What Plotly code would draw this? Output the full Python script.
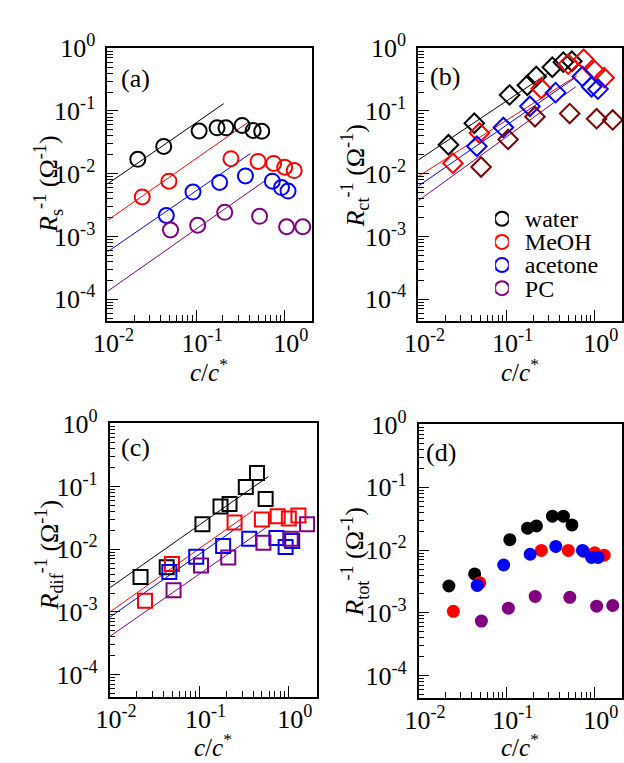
import plotly.graph_objects as go

W, H = 624, 763
FONT = "Liberation Serif"

# ---------------- data ----------------
solvents = ["water", "MeOH", "acetone", "PC"]
colors = ["#000000", "#ff0000", "#0000ff", "#800080"]
pc_ct_color = "#800000"

# c/c* of each sample series
x_water = [0.0219, 0.043, 0.108, 0.172, 0.217, 0.33, 0.44, 0.55]
x_meoh = [0.0246, 0.0492, 0.247, 0.50, 0.75, 1.0, 1.28]
x_acetone = [0.046, 0.092, 0.184, 0.36, 0.725, 0.92, 1.09]
x_pc = [0.0513, 0.104, 0.21, 0.52, 1.05, 1.6]

# (a) Rs^-1
rs_water = [0.017, 0.0272, 0.048, 0.054, 0.054, 0.0588, 0.049, 0.0475]
rs_meoh = [0.00427, 0.00762, 0.0174, 0.0157, 0.0146, 0.0127, 0.01125]
rs_acetone = [0.00216, 0.0051, 0.00727, 0.00922, 0.00762, 0.00603, 0.0053]
rs_pc = [0.00127, 0.00151, 0.00243, 0.0021, 0.00143, 0.00143]

# (b) Rct^-1
rct_water = [0.029, 0.0637, 0.18, 0.257, 0.355, 0.497, 0.60, 0.62]
rct_meoh = [0.0147, 0.0446, 0.228, 0.558, 0.668, 0.44, 0.339]
rct_acetone = [0.0274, 0.0547, 0.119, 0.196, 0.355, 0.243, 0.223]
rct_pc = [0.0128, 0.0352, 0.081, 0.091, 0.0754, 0.072]

# (c) Rdif^-1
rdif_water = [0.0036, 0.00516, 0.0249, 0.0479, 0.0522, 0.098, 0.164, 0.063]
rdif_meoh = [0.00151, 0.00581, 0.0265, 0.0298, 0.0335, 0.0308, 0.0343]
rdif_acetone = [0.00432, 0.00757, 0.0112, 0.0146, 0.0151, 0.0108, 0.0135]
rdif_pc = [0.00221, 0.00548, 0.00738, 0.0126, 0.0146, 0.0249]

# (d) Rtot^-1
rtot_water = [0.00268, 0.00417, 0.0147, 0.0224, 0.0243, 0.0347, 0.0347, 0.0252]
rtot_meoh = [0.00106, 0.00302, 0.0099, 0.0099, 0.0095, 0.00905, 0.0083]
rtot_acetone = [0.00274, 0.0058, 0.0086, 0.01146, 0.0099, 0.00765, 0.00765]
rtot_pc = [0.00074, 0.00119, 0.00183, 0.00177, 0.00128, 0.00131]

# power-law guide lines (start / end points)
fit_a_x = [[0.01, 0.205], [0.01, 0.40], [0.01, 0.41], [0.01, 0.625]]
fit_a_y = [[0.0069, 0.131], [0.00181, 0.0685], [0.000573, 0.021], [0.000134, 0.00809]]
fit_b_x = [[0.01, 0.30], [0.01, 0.63], [0.01, 0.60], [0.01, 0.61]]
fit_b_y = [[0.0166, 0.405], [0.00914, 0.367], [0.0064, 0.339], [0.00374, 0.243]]
fit_c_x = [[0.01, 0.59], [0.01, 0.399], [0.01, 0.298], [0.01, 0.59]]
fit_c_y = [[0.00244, 0.1435], [0.001, 0.0415], [0.00083, 0.0249], [0.00041, 0.0234]]

x_tickvals = [0.01, 0.1, 1]
x_ticktext = ["10<sup>-2</sup>", "10<sup>-1</sup>", "10<sup>0</sup>"]
y_tickvals = [1e-4, 1e-3, 1e-2, 1e-1, 1]
y_ticktext = ["10<sup>-4</sup>", "10<sup>-3</sup>", "10<sup>-2</sup>", "10<sup>-1</sup>", "10<sup>0</sup>"]

xs = [x_water, x_meoh, x_acetone, x_pc]

# ---------------- figure ----------------
fig = go.Figure()

# panel frames in pixels: (left, right, top, bottom)
panels = {
    1: (95.5, 305.5, 31.7, 312.0),
    2: (414.0, 623.0, 31.7, 312.0),
    3: (98.0, 310.0, 416.7, 697.0),
    4: (414.5, 623.0, 417.7, 698.0),
}

x_minor = [k * 10.0 ** e for e in (-2, -1, 0) for k in range(2, 10)]
y_minor = [k * 10.0 ** e for e in (-5, -4, -3, -2, -1) for k in range(2, 10)]

def axis_common(minor_vals):
    return dict(
        type="log",
        showline=True, linecolor="black", linewidth=1.5, mirror=True,
        ticks="inside", ticklen=11, tickwidth=1, tickcolor="black",
        showgrid=False, zeroline=False,
        tickfont=dict(family=FONT, size=26, color="black"),
        minor=dict(tickmode="array", tickvals=minor_vals, ticks="inside",
                   ticklen=6, tickwidth=1, tickcolor="black", showgrid=False),
    )

layout_axes = {}
for i, (l, r, t, b) in panels.items():
    xa = axis_common(x_minor)
    xa.update(domain=[l / W, r / W], range=[-2.005, 0.31], anchor=f"y{i}",
              tickmode="array", tickvals=x_tickvals, ticktext=x_ticktext,
              ticklabelshift=6, ticklabelstandoff=-2)
    ya = axis_common(y_minor)
    ya.update(domain=[1 - b / H, 1 - t / H], range=[-4.35, 0.005], anchor=f"x{i}",
              tickmode="array", tickvals=y_tickvals, ticktext=y_ticktext,
              ticklabelstandoff=5)
    layout_axes[f"xaxis{i}"] = xa
    layout_axes[f"yaxis{i}"] = ya

def add_lines(fx, fy, ax):
    for j in range(4):
        fig.add_trace(go.Scatter(x=fx[j], y=fy[j], mode="lines",
                                 line=dict(color=colors[j], width=1),
                                 xaxis=f"x{ax}", yaxis=f"y{ax}", hoverinfo="skip"))

def add_points(ys, ax, symbol, size, cols, lw=2):
    for j in range(4):
        fig.add_trace(go.Scatter(x=xs[j], y=ys[j], mode="markers",
                                 marker=dict(symbol=symbol, size=size, color=cols[j],
                                             line=dict(color=cols[j], width=lw)),
                                 xaxis=f"x{ax}", yaxis=f"y{ax}", name=solvents[j]))

# (a)
add_lines(fit_a_x, fit_a_y, 1)
add_points([rs_water, rs_meoh, rs_acetone, rs_pc], 1, "circle-open", 15, colors)
# (b)
add_lines(fit_b_x, fit_b_y, 2)
add_points([rct_water, rct_meoh, rct_acetone, rct_pc], 2, "diamond-open", 15,
           colors[:3] + [pc_ct_color])
# (c)
add_lines(fit_c_x, fit_c_y, 3)
add_points([rdif_water, rdif_meoh, rdif_acetone, rdif_pc], 3, "square-open", 14, colors)
# (d)
add_points([rtot_water, rtot_meoh, rtot_acetone, rtot_pc], 4, "circle", 13, colors, lw=0)

# legend inside panel (b), drawn on a small hidden category axis
fig.add_trace(go.Scatter(x=[0] * 4, y=solvents, mode="markers",
                         marker=dict(symbol="circle-open", size=14, color=colors,
                                     line=dict(color=colors, width=2)),
                         xaxis="x5", yaxis="y5", hoverinfo="skip"))
layout_axes["xaxis5"] = dict(domain=[493 / W, 507 / W], range=[-1, 1], visible=False,
                             anchor="y5")
layout_axes["yaxis5"] = dict(domain=[1 - 290 / H, 1 - 195 / H], anchor="x5", side="right",
                             type="category", categoryorder="array", categoryarray=solvents,
                             tickmode="array", tickvals=solvents, ticktext=solvents,
                             range=[3.5, -0.5], showline=False, showgrid=False,
                             zeroline=False, ticks="", ticklabelstandoff=15,
                             tickfont=dict(family=FONT, size=24, color="black"))

annotations = []
def ann(text, px, py, size=26, angle=0):
    annotations.append(dict(text=text, x=px / W, y=1 - py / H, xref="paper", yref="paper",
                            showarrow=False, textangle=angle,
                            font=dict(family=FONT, size=size, color="black"),
                            xanchor="center", yanchor="middle"))

for lab, (px, py) in zip(["(a)", "(b)", "(c)", "(d)"],
                         [(125, 63), (442, 61), (124, 442), (438, 447)]):
    ann(lab, px, py)

ytitles = ["<i>R</i><sub>s</sub><sup>-1</sup> (Ω<sup>-1</sup>)",
           "<i>R</i><sub>ct</sub><sup>-1</sup> (Ω<sup>-1</sup>)",
           "<i>R</i><sub>dif</sub><sup>-1</sup> (Ω<sup>-1</sup>)",
           "<i>R</i><sub>tot</sub><sup>-1</sup> (Ω<sup>-1</sup>)"]
for t, (px, py) in zip(ytitles, [(35, 172), (349, 163), (36, 552), (349, 559)]):
    ann(t, px, py, angle=-90)

xtitle = "<i>c</i>/<i>c</i><sup>*</sup>"
for px, py in [(200, 362), (518, 362), (204, 747), (518, 747)]:
    ann(xtitle, px, py, size=25)

fig.update_layout(
    width=W, height=H, margin=dict(l=0, r=0, t=0, b=0),
    paper_bgcolor="white", plot_bgcolor="white", showlegend=False,
    annotations=annotations, **layout_axes,
)

fig.write_html("out.html", config={"displayModeBar": False},
               post_script="document.body.style.margin='0';document.body.style.overflow='hidden';")
